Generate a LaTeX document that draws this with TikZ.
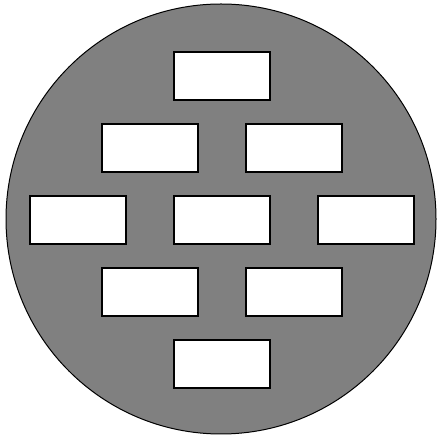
\documentclass[tikz,border=0pt]{standalone}
\begin{document}
\begin{tikzpicture}[x=1pt, y=1pt,
    cell/.style={rectangle, draw=black, fill=white, line width=1.2pt,
      minimum width=96pt, minimum height=48pt, inner sep=0pt}]
    \useasboundingbox (0,0) rectangle (436,438);
    % Disc behind the cells
    \node[circle, draw=black, fill=gray, line width=1pt, minimum size=430pt,
      inner sep=0pt] (disc) at (221,219) {};

    % Row 1
    \node[cell] (c11) at (222,362) {};
    % Row 2
    \node[cell] (c21) at (150,290) {};
    \node[cell] (c22) at (294,290) {};
    % Row 3 (middle)
    \node[cell] (c31) at (78,218)  {};
    \node[cell] (c32) at (222,218) {};
    \node[cell] (c33) at (366,218) {};
    % Row 4
    \node[cell] (c41) at (150,146) {};
    \node[cell] (c42) at (294,146) {};
    % Row 5
    \node[cell] (c51) at (222,74)  {};
  \end{tikzpicture}
\end{document}
